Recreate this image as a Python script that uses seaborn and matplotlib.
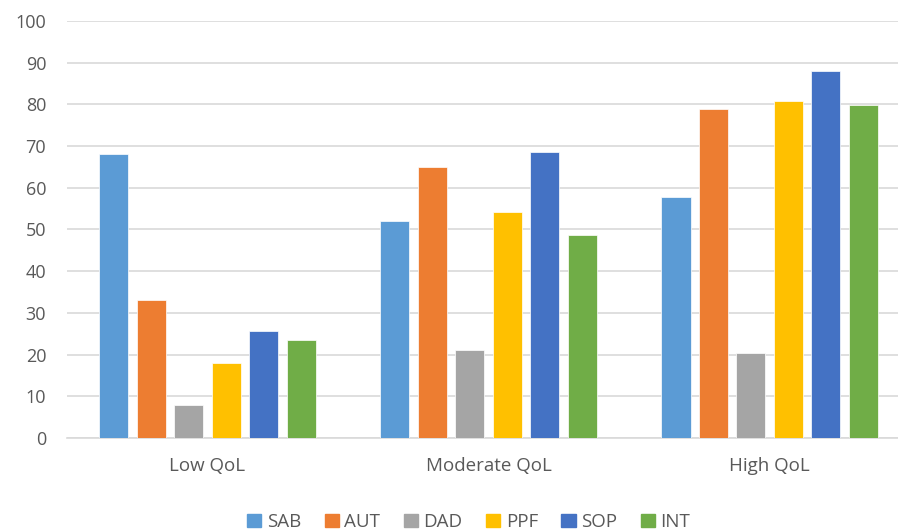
import matplotlib
matplotlib.use("Agg")
import matplotlib.pyplot as plt
import seaborn as sns
import pandas as pd

# Quality-of-life groups and domain scores
categories = ["Low QoL", "Moderate QoL", "High QoL"]
domains = ["SAB", "AUT", "DAD", "PPF", "SOP", "INT"]
sab = [68.0, 52.0, 57.7]
aut = [33.2, 65.0, 78.8]
dad = [8.0, 21.0, 20.4]
ppf = [18.0, 54.1, 80.9]
sop = [25.6, 68.5, 88.1]
int_ = [23.5, 48.7, 79.9]

colors = ["#5B9BD5", "#ED7D31", "#A5A5A5", "#FFC000", "#4472C4", "#70AD47"]
y_ticks = list(range(0, 101, 10))

series = [sab, aut, dad, ppf, sop, int_]
rows = []
for name, vals in zip(domains, series):
    for cat, v in zip(categories, vals):
        rows.append({"group": cat, "domain": name, "score": v})
df = pd.DataFrame(rows)

sns.set_theme(style="white")
plt.rcParams["font.family"] = ["Open Sans", "DejaVu Sans"]

fig = plt.figure(figsize=(8.98, 5.30), dpi=100)
ax = fig.add_axes([0.0746, 0.1736, 0.9254, 0.7868])

sns.barplot(data=df, x="group", y="score", hue="domain",
            order=categories, hue_order=domains, palette=colors,
            saturation=1, width=0.8, gap=0.22, errorbar=None, ax=ax,
            edgecolor="white", linewidth=0.5, zorder=3)

ax.set_ylim(0, 100)
ax.set_xlim(-0.5, 2.457)
ax.set_yticks(y_ticks)
ax.set_xlabel("")
ax.set_ylabel("")
ax.yaxis.grid(True, color="#D9D9D9", linewidth=1.2, zorder=0)
ax.set_axisbelow(True)
for s in ["top", "right", "left"]:
    ax.spines[s].set_visible(False)
ax.spines["bottom"].set_color("#D9D9D9")
ax.spines["bottom"].set_linewidth(1.2)
ax.tick_params(axis="y", length=0, pad=15, labelsize=13, labelcolor="#595959")
ax.tick_params(axis="x", length=0, pad=14, labelsize=13.5, labelcolor="#595959")

ax.legend_.remove()
handles = [plt.Rectangle((0, 0), 1, 1, color=c) for c in colors]
fig.legend(handles, domains, loc="center", bbox_to_anchor=(0.522, 0.015),
           ncol=6, frameon=False, fontsize=13.5, handlelength=0.75,
           handleheight=0.75, handletextpad=0.3, columnspacing=1.25,
           labelcolor="#595959")

fig.savefig("out.png", dpi=100)
